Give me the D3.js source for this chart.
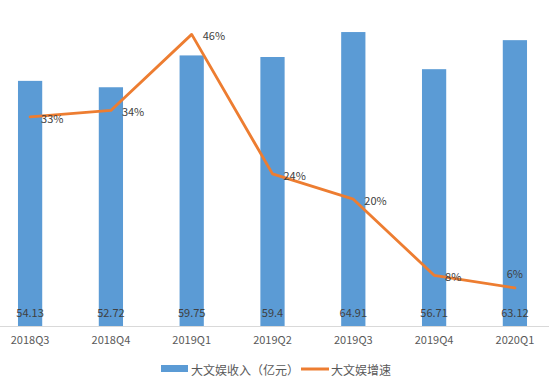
<!DOCTYPE html>
<html>
<head>
<meta charset="utf-8">
<script src="https://cdn.jsdelivr.net/npm/d3@7"></script>
<style>
  html, body { margin: 0; padding: 0; background: #fff; }
  svg { display: block; }
  text { font-family: "Noto Sans CJK SC", "Noto Sans", sans-serif; }
</style>
</head>
<body>
<svg id="chart" width="549" height="383"></svg>
<script>
const categories = ["2018Q3", "2018Q4", "2019Q1", "2019Q2", "2019Q3", "2019Q4", "2020Q1"];
const revenue = [54.13, 52.72, 59.75, 59.4, 64.91, 56.71, 63.12];
const growth = [0.33, 0.34, 0.46, 0.24, 0.20, 0.08, 0.06];
const growthLabels = ["33%", "34%", "46%", "24%", "20%", "8%", "6%"];
const seriesNames = ["大文娱收入（亿元）", "大文娱增速"];

const W = 549, H = 383;
const svg = d3.select("#chart");
const plotTop = 9, plotBottom = 326;

const x = d3.scaleBand().domain(categories).range([-10.3, 555.3]).paddingInner(0.7).paddingOuter(0.35);
const yBar = d3.scaleLinear().domain([0, 70]).range([plotBottom, plotTop]);
const yPct = d3.scaleLinear().domain([0, 0.5]).range([plotBottom, plotTop]);

const blue = "#5B9BD5", orange = "#ED7D31";

// bars
svg.append("g").selectAll("rect").data(revenue).join("rect")
  .attr("x", (d, i) => x(categories[i]))
  .attr("width", x.bandwidth())
  .attr("y", d => yBar(d))
  .attr("height", d => yBar(0) - yBar(d))
  .attr("fill", blue);

// x axis
const axis = svg.append("g").attr("transform", `translate(0,${plotBottom})`)
  .call(d3.axisBottom(x).tickSize(0).tickPadding(10));
axis.select(".domain").attr("stroke", "#D9D9D9").attr("stroke-width", 1);
axis.selectAll("text").attr("fill", "#595959").attr("font-size", 11)
  .style("font-family", '"Noto Sans CJK SC", "Noto Sans", sans-serif');

// bar value labels
svg.append("g").selectAll("text").data(revenue).join("text")
  .attr("x", (d, i) => x(categories[i]) + x.bandwidth() / 2)
  .attr("y", plotBottom - 14)
  .attr("text-anchor", "middle")
  .attr("dominant-baseline", "central")
  .attr("font-size", 11)
  .attr("fill", "#404040")
  .text(d => d);

// line
const cx = (i) => x(categories[i]) + x.bandwidth() / 2;
const line = d3.line().x((d, i) => cx(i)).y(d => yPct(d));
svg.append("path").datum(growth)
  .attr("d", line)
  .attr("fill", "none")
  .attr("stroke", orange)
  .attr("stroke-width", 2.8)
  .attr("stroke-linejoin", "round")
  .attr("stroke-linecap", "round");

// line labels
svg.append("g").selectAll("text").data(growth).join("text")
  .attr("x", (d, i) => i === growth.length - 1 ? cx(i) : cx(i) + 11)
  .attr("y", (d, i) => i === growth.length - 1 ? yPct(d) - 15 : yPct(d) + 1)
  .attr("text-anchor", (d, i) => i === growth.length - 1 ? "middle" : "start")
  .attr("dominant-baseline", "central")
  .attr("font-size", 11)
  .attr("fill", "#404040")
  .text((d, i) => growthLabels[i]);

// legend
const lg = svg.append("g");
lg.append("rect").attr("x", 161).attr("y", 365).attr("width", 27).attr("height", 7).attr("fill", blue);
lg.append("text").attr("x", 191).attr("y", 369).attr("dominant-baseline", "central")
  .attr("font-size", 12).attr("fill", "#595959").text(seriesNames[0]);
lg.append("line").attr("x1", 301).attr("x2", 329).attr("y1", 369).attr("y2", 369)
  .attr("stroke", orange).attr("stroke-width", 3);
lg.append("text").attr("x", 331).attr("y", 369).attr("dominant-baseline", "central")
  .attr("font-size", 12).attr("fill", "#595959").text(seriesNames[1]);
</script>
</body>
</html>
